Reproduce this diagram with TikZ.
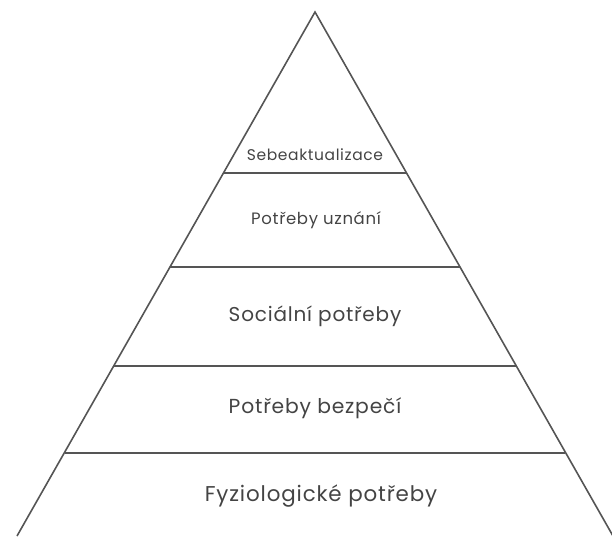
\documentclass[tikz,border=0pt]{standalone}
\usepackage{fontspec}
\setmainfont{Poppins}[LetterSpace=4]
\definecolor{ln}{HTML}{555555}
\definecolor{tx}{HTML}{444444}
\begin{document}
\begin{tikzpicture}[x=1pt,y=-1pt,
  edge/.style={draw=ln,line width=1.6pt,line join=miter},
  lbl/.style={text=tx,inner sep=0pt,anchor=center}]
\useasboundingbox (0,0) rectangle (612,536);
\coordinate (apex) at (315,12);
\coordinate (bl) at (17,536);
\coordinate (br) at (613,536);
\coordinate (l1) at (223,173); \coordinate (r1) at (407,173);
\coordinate (l2) at (170,267); \coordinate (r2) at (460,267);
\coordinate (l3) at (114,366); \coordinate (r3) at (516,366);
\coordinate (l4) at (65,453);  \coordinate (r4) at (565,453);
\draw[edge] (bl) -- (apex) -- (br);
\draw[edge] (l1) -- (r1);
\draw[edge] (l2) -- (r2);
\draw[edge] (l3) -- (r3);
\draw[edge] (l4) -- (r4);
\node[lbl,font=\fontsize{15.5}{18}\selectfont] (t1) at (315,155) {Sebeaktualizace};
\node[lbl,font=\fontsize{16.5}{19}\selectfont] (t2) at (316,220) {Potřeby uznání};
\node[lbl,font=\fontsize{20}{23}\selectfont] (t3) at (315,316) {Sociální potřeby};
\node[lbl,font=\fontsize{20.3}{23}\selectfont] (t4) at (315,408) {Potřeby bezpečí};
\node[lbl,font=\fontsize{21.4}{25}\selectfont] (t5) at (321,496) {Fyziologické potřeby};
\end{tikzpicture}
\end{document}
